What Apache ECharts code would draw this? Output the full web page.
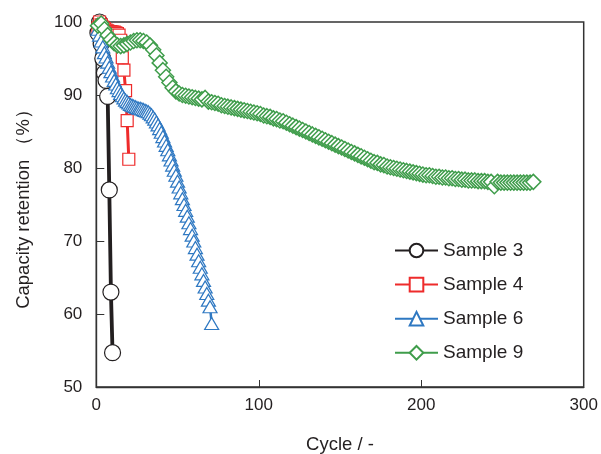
<!DOCTYPE html>
<html>
<head>
<meta charset="utf-8">
<script src="https://cdn.jsdelivr.net/npm/echarts@6/dist/echarts.min.js"></script>
<style>
html,body{margin:0;padding:0;background:#fff;}
#chart{width:601px;height:454px;}
</style>
</head>
<body>
<div id="chart"></div>
<script>
// ---- data ----
const seriesNames = ['Sample 3', 'Sample 4', 'Sample 6', 'Sample 9'];
const xTicks = [0, 100, 200, 300];
const yTicks = [50, 60, 70, 80, 90, 100];

const s3Cycles = [1, 2, 3, 4, 5, 6, 7, 8, 9, 10];
const s3Values = [98.5, 100, 97, 95, 93, 92, 89.8, 77, 63, 54.7];

const s4Cycles = [1, 2, 3, 4, 5, 6, 7, 8, 9, 10, 11, 12, 13, 14, 15, 16, 17, 18, 19, 20];
const s4Values = [99.2, 100, 99.6, 99.3, 99.1, 98.9, 98.8, 98.7, 98.7, 98.6, 98.6, 98.5, 98.4, 98.2, 97.5, 95.1, 93.4, 90.6, 86.5, 81.2];

// Sample 6: one value per cycle, cycles 1..71
const s6FirstCycle = 1;
const s6Values = [
  99.0, 98.2, 97.4, 96.6, 95.8, 95.2, 94.5, 93.8, 93.2, 92.6,
  92.0, 91.5, 91.0, 90.6, 90.2, 89.9, 89.6, 89.3, 89.1, 88.9,
  88.7, 88.6, 88.5, 88.4, 88.3, 88.2, 88.2, 88.1, 88.0, 87.9,
  87.8, 87.7, 87.5, 87.3, 87.0, 86.7, 86.3, 85.9, 85.4, 84.9,
  84.3, 83.7, 83.1, 82.5, 81.8, 81.1, 80.4, 79.7, 79.0, 78.2,
  77.4, 76.6, 75.8, 75.0, 74.2, 73.4, 72.5, 71.7, 70.8, 70.0,
  69.1, 68.2, 67.3, 66.4, 65.5, 64.6, 63.7, 62.8, 61.9, 61.0,
  58.7
];

// Sample 9: values every 2 cycles, cycles 1,3,5,...,269
const s9FirstCycle = 1;
const s9CycleStep = 2;
const s9Values = [
  99.5, 99.8, 99.0, 98.2, 97.6, 97.1, 96.8, 96.7, 96.8, 97.0,
  97.2, 97.4, 97.5, 97.5, 97.4, 97.2, 96.8, 96.2, 95.4, 94.4,
  93.4, 92.5, 91.7, 91.0, 90.5, 90.2, 90.0, 89.9, 89.8, 89.7,
  89.6, 89.5, 89.4, 89.6, 89.1, 89.0, 88.9, 88.8, 88.6, 88.5,
  88.4, 88.3, 88.2, 88.1, 88.0, 87.9, 87.8, 87.7, 87.6, 87.5,
  87.4, 87.2, 87.1, 87.0, 86.8, 86.7, 86.5, 86.4, 86.2, 86.0,
  85.8, 85.6, 85.4, 85.2, 85.0, 84.8, 84.6, 84.4, 84.2, 84.0,
  83.8, 83.6, 83.4, 83.2, 83.0, 82.8, 82.6, 82.4, 82.2, 82.0,
  81.8, 81.6, 81.4, 81.2, 81.0, 80.8, 80.7, 80.5, 80.4, 80.2,
  80.1, 80.0, 79.9, 79.8, 79.7, 79.6, 79.5, 79.4, 79.3, 79.2,
  79.1, 79.0, 79.0, 78.9, 78.8, 78.8, 78.7, 78.7, 78.6, 78.6,
  78.5, 78.5, 78.4, 78.4, 78.3, 78.3, 78.3, 78.2, 78.2, 78.2,
  78.1, 78.1, 77.5, 78.1, 78.0, 78.0, 78.0, 78.0, 78.0, 78.0,
  78.0, 78.0, 78.0, 78.0, 78.1
];

// ---- build pairs ----
function zip(xs, ys) { return xs.map((x, i) => [x, ys[i]]); }
const s6Data = s6Values.map((v, i) => [s6FirstCycle + i, v]);
const s9Data = s9Values.map((v, i) => [s9FirstCycle + i * s9CycleStep, v]);

const colors = ['#231f20', '#ee2b2b', '#2e78c2', '#3f9d4b'];
const textColor = '#231f20';
const font = '"Liberation Sans", Arial, sans-serif';

function mkSeries(name, data, color, symbol, size, lineWidth, bw) {
  return {
    name: name,
    type: 'line',
    data: data,
    symbol: symbol,
    symbolSize: size,
    showAllSymbol: true,
    lineStyle: { color: color, width: lineWidth },
    itemStyle: { color: '#ffffff', borderColor: color, borderWidth: bw },
    emphasis: { disabled: true },
    animation: false
  };
}

const chart = echarts.init(document.getElementById('chart'), null, { renderer: 'canvas' });
chart.setOption({
  backgroundColor: '#ffffff',
  animation: false,
  textStyle: { fontFamily: font, color: textColor },
  grid: {
    left: 96.3, right: 17.3, top: 22, bottom: 67,
    containLabel: false,
    outerBoundsMode: 'none',
    show: true, borderColor: '#333', borderWidth: 1.5, backgroundColor: 'transparent'
  },
  legend: {
    orient: 'vertical',
    left: 394, top: 241,
    padding: 0,
    itemWidth: 43, itemHeight: 17, itemGap: 15.1,
    textStyle: { fontSize: 19, color: textColor, fontFamily: font },
    data: seriesNames,
    selectedMode: false
  },
  xAxis: {
    type: 'value',
    min: xTicks[0], max: xTicks[xTicks.length - 1], interval: 100,
    name: 'Cycle / -',
    nameLocation: 'middle',
    nameGap: 48,
    nameTextStyle: { fontSize: 18.5, color: textColor, fontFamily: font },
    axisLine: { show: true, lineStyle: { color: '#333', width: 1.3 } },
    axisTick: { show: true, inside: true, length: 7, lineStyle: { color: '#333', width: 1 } },
    axisLabel: { fontSize: 17, color: textColor, fontFamily: font, margin: 10 },
    splitLine: { show: false }
  },
  yAxis: {
    type: 'value',
    min: yTicks[0], max: yTicks[yTicks.length - 1], interval: 10,
    name: 'Capacity retention （%）',
    nameLocation: 'middle',
    nameGap: 63,
    nameTextStyle: { fontSize: 18.5, color: textColor, fontFamily: font },
    axisLine: { show: true, lineStyle: { color: '#333', width: 1.3 } },
    axisTick: { show: true, inside: true, length: 8, lineStyle: { color: '#333', width: 1 } },
    axisLabel: { fontSize: 17, color: textColor, fontFamily: font, margin: 14 },
    splitLine: { show: false }
  },
  series: [
    mkSeries(seriesNames[0], zip(s3Cycles, s3Values), colors[0], 'circle', 16, 3.8, 1.2),
    mkSeries(seriesNames[1], zip(s4Cycles, s4Values), colors[1], 'rect', 12, 3, 1.2),
    mkSeries(seriesNames[2], s6Data, colors[2], 'triangle', [14, 12], 2.5, 1.2),
    mkSeries(seriesNames[3], s9Data, colors[3], 'diamond', [15, 15], 2.5, 1.5)
  ]
});
</script>
</body>
</html>
